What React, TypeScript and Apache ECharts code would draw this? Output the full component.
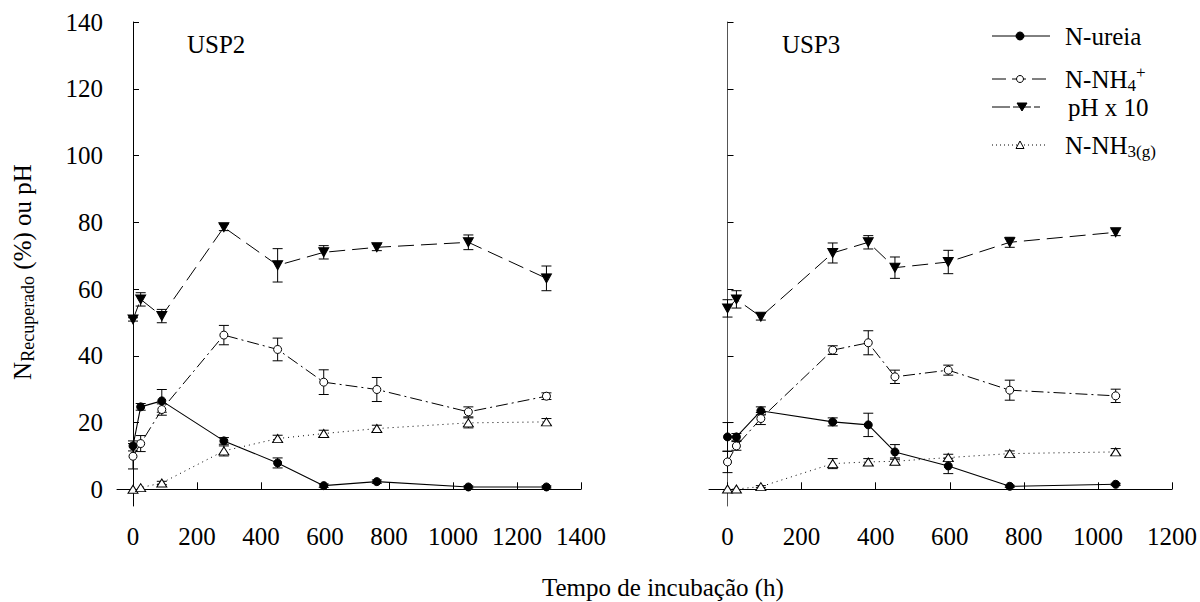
import React, { useEffect, useRef } from "react";
import * as echarts from "echarts";

// ---------- data ----------
const usp2Time = [0, 24, 90, 284, 452, 596, 762, 1048, 1292];
const usp2Ureia = [13, 24.7, 26.5, 14.5, 7.9, 1.1, 2.3, 0.7, 0.7];
const usp2UreiaErr = [1.5, 1, 3.4, 1, 1.5, 0.5, 0.5, 0.3, 0.3];
const usp2Nh4 = [9.9, 13.7, 23.9, 46.2, 41.9, 32.1, 29.9, 23.2, 27.9];
const usp2Nh4Err = [3.8, 2.4, 1.7, 2.9, 3.4, 3.7, 3.6, 1.5, 1];
const usp2Ph = [50.9, 56.9, 51.9, 78.5, 67.1, 71, 72.5, 74, 63.2];
const usp2PhErr = [0.5, 2, 2, 1, 5, 2, 1, 2.2, 3.7];
const usp2Nh3 = [0, 0.5, 1.9, 11.5, 15.2, 16.7, 18.2, 19.9, 20.2];
const usp2Nh3Err = [0, 0, 0.5, 1.5, 1, 1, 1, 1.5, 1];

const usp3Time = [0, 24, 90, 284, 380, 452, 596, 762, 1048];
const usp3Ureia = [15.7, 15.7, 23.5, 20.2, 19.3, 11.2, 7.0, 0.9, 1.5];
const usp3UreiaErr = [4.3, 1, 1.2, 1.2, 3.5, 2.2, 2.3, 0.3, 0.3];
const usp3Nh4 = [8.2, 13, 21.2, 41.7, 43.9, 33.7, 35.7, 29.7, 28];
const usp3Nh4Err = [3.2, 1.3, 1.8, 1.3, 3.6, 2, 1.5, 3, 2];
const usp3Ph = [54.2, 56.9, 51.7, 70.8, 74, 66.4, 68.1, 74, 77];
const usp3PhErr = [2.6, 2.6, 1, 3, 2, 3.2, 3.5, 1.5, 1];
const usp3Nh3 = [0.1, 0.1, 0.8, 7.7, 8.2, 8.4, 9.5, 10.7, 11.2];
const usp3Nh3Err = [0, 0, 0.3, 1.5, 1, 1, 1, 0.8, 1];

const xTicksLeft = [0, 200, 400, 600, 800, 1000, 1200, 1400];
const xTicksRight = [0, 200, 400, 600, 800, 1000, 1200];
const yTicks = [0, 20, 40, 60, 80, 100, 120, 140];

const panelNames = ["USP2", "USP3"];
const seriesNames = ["N-ureia", "N-NH4+", "pH x 10", "N-NH3(g)"];
const xAxisTitle = "Tempo de incubação (h)";

const FONT = "Liberation Serif";

const NH4_DASH = [12, 4, 2, 4];
const PH_DASH = [16, 7];
const NH3_DASH = [1, 4];

function pairs(t: number[], v: number[]) {
  return t.map((x, i) => [x, v[i]]);
}
function triples(t: number[], v: number[], e: number[]) {
  return t.map((x, i) => [x, v[i], e[i]]);
}

const errRender = (params: any, api: any) => {
  const x = api.value(0);
  const y = api.value(1);
  const e = api.value(2);
  if (!e) return null;
  const top = api.coord([x, y + e]);
  const bot = api.coord([x, y - e]);
  const hw = 5;
  const st = { stroke: "#000", lineWidth: 1 };
  return {
    type: "group",
    children: [
      { type: "line", shape: { x1: top[0], y1: top[1], x2: bot[0], y2: bot[1] }, style: st },
      { type: "line", shape: { x1: top[0] - hw, y1: top[1], x2: top[0] + hw, y2: top[1] }, style: st },
      { type: "line", shape: { x1: bot[0] - hw, y1: bot[1], x2: bot[0] + hw, y2: bot[1] }, style: st },
    ],
  };
};

function panelSeries(
  idx: number,
  t: number[],
  ureia: number[], ureiaE: number[],
  nh4: number[], nh4E: number[],
  ph: number[], phE: number[],
  nh3: number[], nh3E: number[]
) {
  const common = { xAxisIndex: idx, yAxisIndex: idx, z: 3 };
  const errCommon = { type: "custom", xAxisIndex: idx, yAxisIndex: idx, renderItem: errRender, z: 2, encode: { x: 0, y: 1 } };
  return [
    { ...errCommon, data: triples(t, nh3, nh3E) },
    { ...errCommon, data: triples(t, ureia, ureiaE) },
    { ...errCommon, data: triples(t, nh4, nh4E) },
    { ...errCommon, data: triples(t, ph, phE) },
    {
      ...common, type: "line", name: seriesNames[3], data: pairs(t, nh3),
      symbol: "triangle", symbolSize: [10, 8],
      lineStyle: { color: "#000", width: 1, type: NH3_DASH },
      itemStyle: { color: "#fff", borderColor: "#000", borderWidth: 1 },
    },
    {
      ...common, type: "line", name: seriesNames[0], data: pairs(t, ureia),
      symbol: "circle", symbolSize: 8,
      lineStyle: { color: "#000", width: 1.1 },
      itemStyle: { color: "#000", borderColor: "#000", borderWidth: 1 },
    },
    {
      ...common, type: "line", name: seriesNames[1], data: pairs(t, nh4),
      symbol: "circle", symbolSize: 8,
      lineStyle: { color: "#000", width: 1, type: NH4_DASH },
      itemStyle: { color: "#fff", borderColor: "#000", borderWidth: 1 },
    },
    {
      ...common, type: "line", name: seriesNames[2], data: pairs(t, ph),
      symbol: "triangle", symbolSize: [10, 9], symbolRotate: 180,
      lineStyle: { color: "#000", width: 1, type: PH_DASH },
      itemStyle: { color: "#000", borderColor: "#000", borderWidth: 1 },
    },
  ];
}

const plain = (v: number) => String(v);

function xAxis(idx: number, max: number, ticks: number[]) {
  return {
    type: "value", gridIndex: idx, min: -50, max,
    axisLine: { show: true, lineStyle: { color: "#000", width: 1 } },
    axisTick: { show: true, inside: true, length: 7, customValues: ticks, lineStyle: { color: "#000" } },
    axisLabel: { show: true, customValues: ticks, formatter: plain, margin: 18, color: "#000", fontFamily: FONT, fontSize: 25 },
    splitLine: { show: false },
  };
}

function yAxis(idx: number, showLabels: boolean, lineColor: string) {
  return {
    type: "value", gridIndex: idx, min: -5, max: 140,
    axisLine: { show: true, lineStyle: { color: lineColor, width: 1 } },
    axisTick: { show: true, inside: true, length: 6, customValues: yTicks, lineStyle: { color: "#000" } },
    axisLabel: { show: showLabels, customValues: yTicks, formatter: plain, margin: 14, color: "#000", fontFamily: FONT, fontSize: 25 },
    splitLine: { show: false },
  };
}

const txt = (x: number, y: number, text: string, rich: any, extra: any = {}) => ({
  type: "text", x, y, z: 10,
  style: { text, rich, fill: "#000", fontFamily: FONT, fontSize: 25, verticalAlign: "middle", ...extra },
});

const richBase = {
  a: { fontSize: 25, fontFamily: FONT, lineHeight: 30, color: "#000" },
  s: { fontSize: 17, fontFamily: FONT, lineHeight: 16, verticalAlign: "bottom", color: "#000" },
  p: { fontSize: 17, fontFamily: FONT, lineHeight: 14, verticalAlign: "top", color: "#000" },
};

function legendGraphics() {
  const g: any[] = [];
  const rows = [36, 79, 107, 145];
  // row 1
  g.push({ type: "line", shape: { x1: 992, y1: rows[0], x2: 1050, y2: rows[0] }, style: { stroke: "#000", lineWidth: 1 } });
  g.push({ type: "circle", shape: { cx: 1020, cy: rows[0], r: 4 }, style: { fill: "#000", stroke: "#000" } });
  g.push(txt(1065, rows[0], `{a|${seriesNames[0]}}`, richBase));
  // row 2
  g.push({ type: "line", shape: { x1: 992, y1: rows[1], x2: 1048, y2: rows[1] }, style: { stroke: "#000", lineWidth: 1, lineDash: [14, 6] } });
  g.push({ type: "circle", shape: { cx: 1020, cy: rows[1], r: 3.5 }, style: { fill: "#fff", stroke: "#000", lineWidth: 1 } });
  g.push(txt(1065, rows[1], "{a|N-NH}{s|4}{p|+}", richBase));
  // row 3
  g.push({ type: "line", shape: { x1: 992, y1: rows[2], x2: 1040, y2: rows[2] }, style: { stroke: "#000", lineWidth: 1, lineDash: [18, 3] } });
  g.push({ type: "polygon", shape: { points: [[1017, rows[2] - 4], [1027, rows[2] - 4], [1022, rows[2] + 4]] }, style: { fill: "#000", stroke: "#000" } });
  g.push(txt(1068, rows[2], `{a|${seriesNames[2]}}`, richBase));
  // row 4
  g.push({ type: "line", shape: { x1: 992, y1: rows[3], x2: 1048, y2: rows[3] }, style: { stroke: "#000", lineWidth: 1, lineDash: [1, 3] } });
  g.push({ type: "polygon", shape: { points: [[1016, rows[3] + 3.5], [1024, rows[3] + 3.5], [1020, rows[3] - 4]] }, style: { fill: "#fff", stroke: "#000", lineWidth: 1 } });
  g.push(txt(1065, rows[3], "{a|N-NH}{s|3(g)}", richBase));
  return g;
}

export default function App() {
  const ref = useRef<HTMLDivElement>(null);
  useEffect(() => {
    if (!ref.current) return;
    const chart = echarts.init(ref.current, undefined, { renderer: "svg" });
    const option: any = {
      animation: false,
      backgroundColor: "#fff",
      textStyle: { fontFamily: FONT },
      grid: [
        { left: 117, top: 22, width: 464, height: 484 },
        { left: 709, top: 22, width: 463, height: 484 },
      ],
      xAxis: [xAxis(0, 1400, xTicksLeft), xAxis(1, 1200, xTicksRight)],
      yAxis: [yAxis(0, true, "#000"), yAxis(1, false, "#555")],
      series: [
        ...panelSeries(0, usp2Time, usp2Ureia, usp2UreiaErr, usp2Nh4, usp2Nh4Err, usp2Ph, usp2PhErr, usp2Nh3, usp2Nh3Err),
        ...panelSeries(1, usp3Time, usp3Ureia, usp3UreiaErr, usp3Nh4, usp3Nh4Err, usp3Ph, usp3PhErr, usp3Nh3, usp3Nh3Err),
      ],
      graphic: [
        txt(187, 44, panelNames[0], null),
        txt(782, 44, panelNames[1], null),
        txt(542, 587, xAxisTitle, null),
        {
          type: "text", x: 22, y: 272, rotation: Math.PI / 2, z: 10,
          style: {
            text: "{a|N}{s|Recuperado}{a| (%) ou pH}",
            rich: { a: { fontSize: 25, fontFamily: FONT, lineHeight: 30, color: "#000" }, s: { fontSize: 18, fontFamily: FONT, lineHeight: 16, verticalAlign: "bottom", color: "#000" } },
            align: "center", verticalAlign: "middle", fill: "#000", fontFamily: FONT, fontSize: 25,
          },
        },
        ...legendGraphics(),
      ],
    };
    chart.setOption(option);
    return () => chart.dispose();
  }, []);
  return <div ref={ref} style={{ position: "absolute", left: 0, top: 0, width: 1200, height: 602 }} />;
}
